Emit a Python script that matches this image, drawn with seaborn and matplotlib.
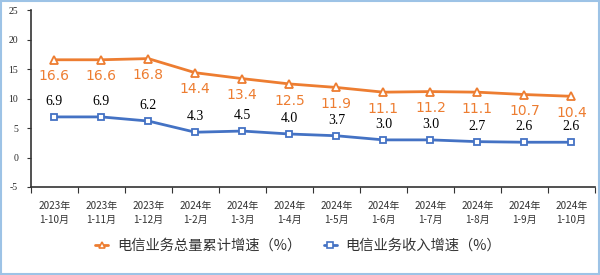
import matplotlib
matplotlib.use("Agg")
import matplotlib.pyplot as plt
import seaborn as sns
import pandas as pd
from matplotlib.patches import Rectangle
from matplotlib.lines import Line2D

categories = ["2023年\n1-10月", "2023年\n1-11月", "2023年\n1-12月", "2024年\n1-2月", "2024年\n1-3月",
              "2024年\n1-4月", "2024年\n1-5月", "2024年\n1-6月", "2024年\n1-7月", "2024年\n1-8月",
              "2024年\n1-9月", "2024年\n1-10月"]
volume_growth = [16.6, 16.6, 16.8, 14.4, 13.4, 12.5, 11.9, 11.1, 11.2, 11.1, 10.7, 10.4]
revenue_growth = [6.9, 6.9, 6.2, 4.3, 4.5, 4.0, 3.7, 3.0, 3.0, 2.7, 2.6, 2.6]
series_names = ["电信业务总量累计增速（%）", "电信业务收入增速（%）"]
yticks = [-5, 0, 5, 10, 15, 20, 25]

sns.set_theme(style="white")
plt.rcParams['font.family'] = ['Noto Sans CJK SC', 'DejaVu Sans']

orange = "#ED7D31"
blue = "#4472C4"

df = pd.DataFrame({"x": list(range(len(categories))) * 2,
                   "value": volume_growth + revenue_growth,
                   "series": [series_names[0]] * len(categories) + [series_names[1]] * len(categories)})

fig = plt.figure(figsize=(6, 2.75), dpi=100)
ax = fig.add_axes([30.7 / 600, 1 - 187 / 275, (595 - 30.7) / 600, (187 - 10.3) / 275])

sns.lineplot(data=df, x="x", y="value", hue="series", style="series",
             palette=[orange, blue], markers=["^", "s"], dashes=False,
             linewidth=2, markersize=5.5, markerfacecolor="white", markeredgewidth=1.3,
             ax=ax, legend=False)
for line, c, ms in zip(ax.lines, [orange, blue], [6, 4.5]):
    line.set_markeredgecolor(c)
    line.set_markersize(ms)

ax.set_xlim(-0.5, len(categories) - 0.5)
ax.set_ylim(-5, 25)
ax.set_yticks(yticks)
ax.set_yticklabels([str(v) for v in yticks], family="Liberation Serif", fontsize=7)
ax.set_xticks(range(len(categories)))
ax.set_xticklabels(categories, fontsize=7.2, color="#333333", linespacing=1.5)
ax.tick_params(axis="x", which="major", length=0, pad=10)
ax.set_xticks([i - 0.5 for i in range(len(categories) + 1)], minor=True)
ax.tick_params(axis="x", which="minor", length=4, width=0.8, color="#333333", direction="out", bottom=True)
ax.tick_params(axis="y", length=3, width=0.8, color="#333333", direction="out", left=True, pad=6)
ax.set_xlabel("")
ax.set_ylabel("")
for s in ["top", "right"]:
    ax.spines[s].set_visible(False)
for s in ["left", "bottom"]:
    ax.spines[s].set_color("#333333")
    ax.spines[s].set_linewidth(1.2)

for i, v in enumerate(volume_growth):
    ax.annotate(f"{v:.1f}", (i, v), xytext=(0, -12), textcoords="offset points",
                ha="center", va="center", color=orange, fontsize=10, family="DejaVu Sans")
for i, v in enumerate(revenue_growth):
    ax.annotate(f"{v:.1f}", (i, v), xytext=(0, 11), textcoords="offset points",
                ha="center", va="center", color="black", fontsize=10, family="Liberation Serif")

# legend
handles = [Line2D([0], [0], color=orange, lw=2, marker="^", markersize=5, markerfacecolor="white",
                  markeredgecolor=orange, markeredgewidth=1.2),
           Line2D([0], [0], color=blue, lw=2, marker="s", markersize=4, markerfacecolor="white",
                  markeredgecolor=blue, markeredgewidth=1.2)]
leg = fig.legend(handles, series_names, loc="center", bbox_to_anchor=(0.497, 1 - 246 / 275), ncol=2,
                 frameon=False, fontsize=10.3, handlelength=0.9, columnspacing=1.6, handletextpad=0.6)
for t in leg.get_texts():
    t.set_color("#333333")

fig.patches.append(Rectangle((0.002, 0.004), 0.996, 0.992, transform=fig.transFigure,
                             fill=False, edgecolor="#9DC3E6", linewidth=1.5))

fig.savefig("out.png", dpi=100)
